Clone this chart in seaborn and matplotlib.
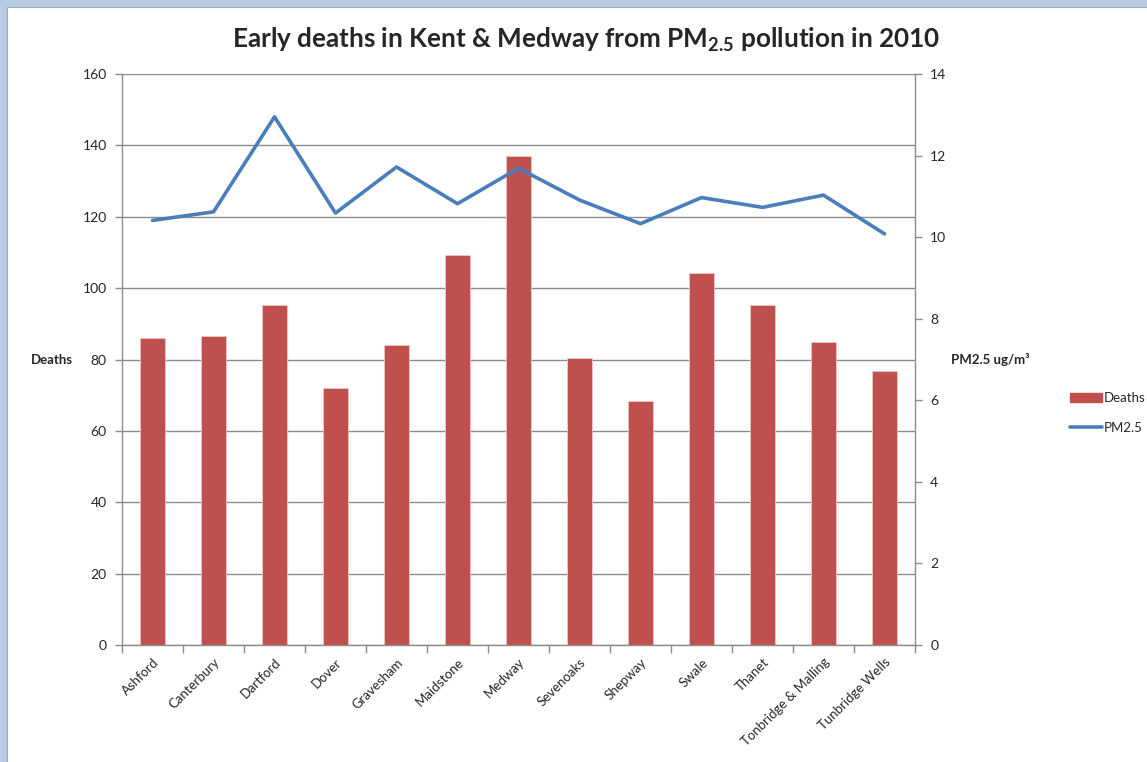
import numpy as np
import pandas as pd
import seaborn as sns
import matplotlib.pyplot as plt
from matplotlib.patches import Rectangle, Patch
from matplotlib.lines import Line2D

# values
districts = ["Ashford", "Canterbury", "Dartford", "Dover", "Gravesham", "Maidstone",
             "Medway", "Sevenoaks", "Shepway", "Swale", "Thanet",
             "Tonbridge & Malling", "Tunbridge Wells"]
deaths = [85.9, 86.5, 95.4, 71.9, 84.2, 109.4, 137.1, 80.4, 68.4, 104.1, 95.4, 85.0, 76.8]
pm25 = [10.41, 10.62, 12.95, 10.59, 11.72, 10.82, 11.69, 10.91, 10.33, 10.97, 10.73, 11.03, 10.08]

df = pd.DataFrame({"District": districts, "Deaths": deaths, "PM2.5": pm25})

BAR = "#C0504D"
LINE = "#4A7EBB"
GRID = "#8C8C8C"

sns.set_theme(style="white")
plt.rcParams["font.family"] = ["Lato", "DejaVu Sans"]
plt.rcParams["mathtext.fontset"] = "custom"
plt.rcParams["mathtext.rm"] = "Lato"
plt.rcParams["mathtext.bf"] = "Lato:bold"

fig = plt.figure(figsize=(11.47, 7.62), dpi=100)
fig.patch.set_facecolor("#b8cce4")
fig.add_artist(Rectangle((7 / 1147, -0.01), 1.0, 1.01 - 7 / 762, transform=fig.transFigure,
                         facecolor="white", edgecolor="#9aa9bd", linewidth=0.8, zorder=0))

ax = fig.add_axes([122 / 1147, 1 - 645 / 762, 793 / 1147, 571 / 762])

# bars - deaths
sns.barplot(data=df, x="District", y="Deaths", color=BAR, saturation=1, width=0.4,
            edgecolor="#f0c4c3", linewidth=0.6, ax=ax)

# line - PM2.5 on secondary axis
ax2 = ax.twinx()
sns.lineplot(x=np.arange(len(districts)), y=df["PM2.5"], color=LINE, linewidth=2.6, ax=ax2)

ax.set_xlim(-0.5, len(districts) - 0.5)
ax.set_ylim(0, 160)
ax.set_yticks(range(0, 161, 20))
ax2.set_ylim(0, 14)
ax2.set_yticks(range(0, 15, 2))

ax.set_axisbelow(True)
ax.yaxis.grid(True, color=GRID, linewidth=1)

for s in ["top", "right"]:
    ax.spines[s].set_visible(False)
for s in ["top", "left", "bottom"]:
    ax2.spines[s].set_visible(False)
for sp in [ax.spines["left"], ax.spines["bottom"], ax2.spines["right"]]:
    sp.set_color(GRID)
    sp.set_linewidth(1)

ax.tick_params(axis="y", length=5, width=1, color=GRID, labelsize=10, pad=6, left=True)
ax2.tick_params(axis="y", length=5, width=1, color=GRID, labelsize=10, pad=6, right=True)

ax.set_xticks(np.arange(len(districts)))
ax.set_xticklabels(districts, rotation=45, ha="right", rotation_mode="anchor", fontsize=9.5)
ax.set_xticks(np.arange(-0.5, len(districts), 1), minor=True)
ax.tick_params(axis="x", which="major", length=0, pad=8)
ax.tick_params(axis="x", which="minor", length=6, width=1, color=GRID, bottom=True)

ax.set_xlabel("")
ax2.set_xlabel("")
ax.set_ylabel("Deaths", rotation=0, fontweight="bold", fontsize=9.5, ha="center", va="center")
ax.yaxis.set_label_coords(-0.088, 0.5)
ax2.set_ylabel("PM2.5 ug/m³", rotation=0, fontweight="bold", fontsize=9.5, ha="center", va="center")
ax2.yaxis.set_label_coords(1.095, 0.5)

fig.text(586 / 1147, 1 - 40 / 762, r"Early deaths in Kent & Medway from PM$_{\mathbf{2.5}}$ pollution in 2010",
         ha="center", va="center", fontsize=18.8, fontweight="bold")

handles = [Patch(facecolor=BAR, edgecolor=BAR), Line2D([], [], color=LINE, linewidth=2.6)]
fig.legend(handles, ["Deaths", "PM2.5"], loc="upper left",
           bbox_to_anchor=(1058 / 1147, 1 - 380 / 762), frameon=False, fontsize=9.5,
           handlelength=2.4, handletextpad=0.2, labelspacing=1.35)

fig.savefig("out.png", dpi=100)
